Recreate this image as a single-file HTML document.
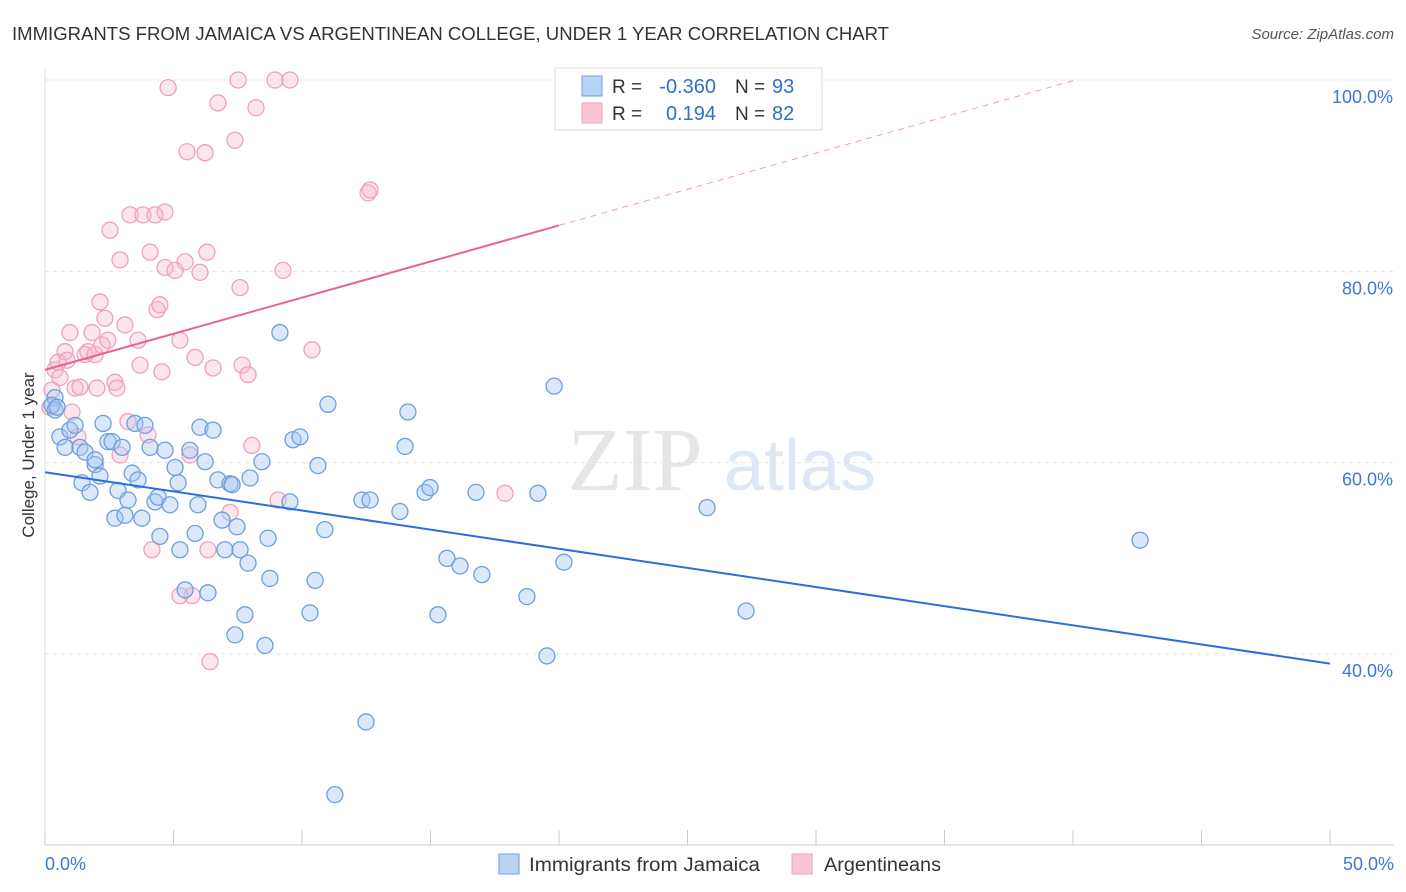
<!DOCTYPE html>
<html><head><meta charset="utf-8"><style>
body{margin:0;background:#fff;font-family:"Liberation Sans",sans-serif}
svg{display:block}
</style></head><body>
<svg id="chart" width="1406" height="892" xmlns="http://www.w3.org/2000/svg" font-family="Liberation Sans, sans-serif">
<text x="12" y="40" font-size="18" fill="#333" textLength="877" lengthAdjust="spacingAndGlyphs">IMMIGRANTS FROM JAMAICA VS ARGENTINEAN COLLEGE, UNDER 1 YEAR CORRELATION CHART</text>
<text x="1394" y="39" font-size="15" fill="#555" font-style="italic" text-anchor="end">Source: ZipAtlas.com</text>
<g>
<text x="635" y="490" font-size="90" fill="#e6e6e6" font-family="Liberation Serif, serif" text-anchor="middle">ZIP</text>
<text x="800" y="490" font-size="72" fill="#dde7f5" text-anchor="middle">atlas</text>
</g>
<g id="grid"></g>
<g id="axes"></g>
<g id="marks"></g>
<text transform="translate(34,455) rotate(-90)" font-size="17" fill="#333" text-anchor="middle">College, Under 1 year</text>
<g>
<rect x="555" y="68" width="267" height="62" fill="#fff" stroke="#ddd"/>
<rect x="582" y="76" width="20" height="20" fill="#b9d3f5" stroke="#6b9fe0"/>
<rect x="582" y="103" width="20" height="20" fill="#f9c6d6" stroke="#f0a0bd"/>
<text x="612" y="93" font-size="19" fill="#333">R =</text>
<text x="716" y="93" font-size="20" fill="#2f6fd1" text-anchor="end">-0.360</text>
<text x="735" y="93" font-size="19" fill="#333">N =</text>
<text x="772" y="93" font-size="20" fill="#2f6fd1">93</text>
<text x="612" y="120" font-size="19" fill="#333">R =</text>
<text x="716" y="120" font-size="20" fill="#2f6fd1" text-anchor="end">0.194</text>
<text x="735" y="120" font-size="19" fill="#333">N =</text>
<text x="772" y="120" font-size="20" fill="#2f6fd1">82</text>
</g>
<g>
<rect x="499" y="854" width="20" height="20" fill="#b9d3f5" stroke="#6b9fe0"/>
<text x="529" y="871" font-size="19" fill="#333" textLength="231" lengthAdjust="spacingAndGlyphs">Immigrants from Jamaica</text>
<rect x="792" y="854" width="20" height="20" fill="#f9c6d6" stroke="#f0a0bd"/>
<text x="824" y="871" font-size="19" fill="#333" textLength="117" lengthAdjust="spacingAndGlyphs">Argentineans</text>
</g>
</svg>
<script>
const blueX=[0.39,0.39,0.58,0.78,0.97,1.17,1.36,1.44,1.56,1.75,1.95,1.95,2.14,2.26,2.45,2.61,2.72,2.84,3.0,3.11,3.23,3.39,3.5,3.62,3.77,3.89,4.09,4.28,4.4,4.47,4.67,4.86,5.06,5.18,5.25,5.45,5.64,5.84,5.95,6.03,6.23,6.34,6.54,6.73,6.89,7.0,7.2,7.28,7.39,7.47,7.59,7.78,7.9,7.98,8.44,8.56,8.68,8.75,9.14,9.53,9.65,9.92,10.31,10.51,10.62,10.89,11.01,11.28,12.33,12.49,12.65,13.81,14.01,14.12,14.79,14.98,15.29,15.64,16.15,16.77,17.0,18.75,19.18,19.53,19.81,20.19,25.76,27.28,42.61,0.27,0.47];
const blueY=[66.8,65.5,62.7,61.6,63.4,63.9,61.6,57.9,61.1,56.9,59.8,60.3,58.6,64.1,62.2,62.2,54.2,57.1,61.6,54.5,56.1,58.9,64.1,58.2,54.2,63.9,61.6,55.9,56.4,52.3,61.3,55.6,59.5,57.9,50.9,46.7,61.3,52.6,55.6,63.7,60.1,46.4,63.4,58.2,54.0,50.9,57.8,57.7,42.0,53.3,50.9,44.1,49.5,58.4,60.1,40.9,52.1,47.9,73.6,55.9,62.4,62.7,44.3,47.7,59.7,53.0,66.1,25.3,56.1,32.9,56.1,54.9,61.7,65.3,56.9,57.4,44.1,50.0,49.2,56.9,48.3,46.0,56.8,39.8,68.0,49.6,55.3,44.5,51.9,66.0,65.8];
const pinkX=[0.19,0.27,0.39,0.51,0.58,0.78,0.86,0.97,1.05,1.17,1.28,1.36,1.56,1.67,1.83,1.95,2.02,2.14,2.22,2.33,2.45,2.53,2.72,2.8,2.92,3.11,3.23,3.31,3.62,3.7,3.81,4.01,4.09,4.28,4.36,4.47,4.55,4.67,4.67,4.79,5.06,5.25,5.45,5.53,5.64,5.72,5.84,6.03,6.23,6.3,6.34,6.42,6.54,6.73,7.2,7.39,7.59,7.67,7.9,8.05,8.21,7.51,8.95,9.26,9.53,9.07,10.39,12.57,12.65,17.9,5.25,2.92,4.16];
const pinkY=[65.8,67.6,69.7,70.5,68.9,71.6,70.7,73.6,65.3,67.8,62.7,67.9,71.3,71.6,73.6,71.3,67.8,76.8,72.3,75.1,72.8,84.3,68.4,67.8,81.2,74.4,64.3,85.9,72.8,70.2,85.9,62.9,82.0,85.9,76.0,76.5,69.5,86.2,80.4,99.2,80.1,72.8,81.0,92.5,60.8,46.1,71.0,79.9,92.4,82.0,50.9,39.2,69.9,97.6,54.8,93.7,78.3,70.2,69.2,61.8,97.1,100,100,80.1,100,56.1,71.8,88.2,88.5,56.8,46.1,60.8,50.9];
const yTicks=[100,80,60,40];
const yTickLabels=["100.0%","80.0%","60.0%","40.0%"];
const xTicks=[0,5,10,15,20,25,30,35,40,45,50];
const blueTrend=[[0,59.0],[50,39.0]];
const pinkTrendSolid=[[0,69.7],[20,84.8]];
const pinkTrendDash=[[20,84.8],[40.1,100]];

const NS="http://www.w3.org/2000/svg";
const X=v=>45+v*25.7;
const Y=v=>80+(100-v)*9.567;
function mk(tag,attrs,parent){const e=document.createElementNS(NS,tag);for(const k in attrs)e.setAttribute(k,attrs[k]);parent.appendChild(e);return e;}
const grid=document.getElementById('grid'),axes=document.getElementById('axes'),marks=document.getElementById('marks');
yTicks.forEach((t,i)=>{
  const l=mk('line',{x1:45,x2:1394,y1:Y(t),y2:Y(t),stroke:'#e3e3e3','stroke-dasharray':'4,4'},grid);
  
  
  const tx=mk('text',{x:1393,y:Y(t)+23,'font-size':18,fill:'#3d78d6','text-anchor':'end'},axes);
  tx.textContent=yTickLabels[i];
  
  
});
const ax=mk('line',{x1:45,x2:1394,y1:845,y2:845,stroke:'#ccc'},axes);


const yax=mk('line',{x1:45,x2:45,y1:68,y2:845,stroke:'#ddd'},axes);


xTicks.forEach(t=>{
  const l=mk('line',{x1:X(t),x2:X(t),y1:830,y2:845,stroke:'#ccc'},axes);
  
  
});
const xl0=mk('text',{x:45,y:870,'font-size':18,fill:'#3d78d6'},axes);xl0.textContent='0.0%';


const xl1=mk('text',{x:1394,y:870,'font-size':18,fill:'#3d78d6','text-anchor':'end'},axes);xl1.textContent='50.0%';



pinkX.forEach((x,i)=>{
  const c=mk('circle',{cx:X(x),cy:Y(pinkY[i]),r:8,fill:'rgba(246,182,203,0.35)',stroke:'#f0a0bd','stroke-width':1.3},marks);
  
  
});
blueX.forEach((x,i)=>{
  const c=mk('circle',{cx:X(x),cy:Y(blueY[i]),r:8,fill:'rgba(165,198,242,0.4)',stroke:'#6b9fe0','stroke-width':1.3},marks);
  
  
});
const bl=mk('line',{x1:X(blueTrend[0][0]),y1:Y(blueTrend[0][1]),x2:X(blueTrend[1][0]),y2:Y(blueTrend[1][1]),stroke:'#2b6fd8','stroke-width':2},marks);


const pl=mk('line',{x1:X(pinkTrendSolid[0][0]),y1:Y(pinkTrendSolid[0][1]),x2:X(pinkTrendSolid[1][0]),y2:Y(pinkTrendSolid[1][1]),stroke:'#e8638f','stroke-width':2},marks);


const pd=mk('line',{x1:X(pinkTrendDash[0][0]),y1:Y(pinkTrendDash[0][1]),x2:X(pinkTrendDash[1][0]),y2:Y(pinkTrendDash[1][1]),stroke:'#eea0b8','stroke-width':1,'stroke-dasharray':'6,5'},marks);


</script>
</body></html>
